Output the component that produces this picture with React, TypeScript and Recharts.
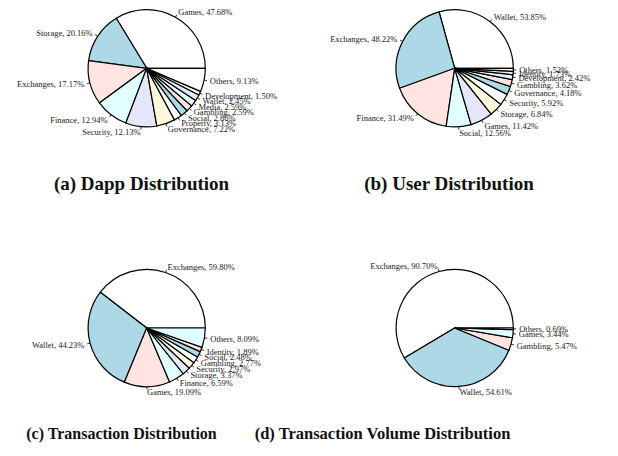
import React from 'react';
import { PieChart, Pie, Cell } from 'recharts';

// R's default pie palette
const PALETTE = ['#FFFFFF', '#ADD8E6', '#FFE4E1', '#E0FFFF', '#E6E6FA', '#FFF8DC'];

const dappNames = ['Games', 'Storage', 'Exchanges', 'Finance', 'Security', 'Governance', 'Property', 'Social', 'Gambling', 'Media', 'Wallet', 'Development', 'Others'];
const dappValues = [47.68, 20.16, 17.17, 12.94, 12.13, 7.22, 3.13, 2.86, 2.59, 2.59, 2.45, 1.5, 9.13];

const userNames = ['Wallet', 'Exchanges', 'Finance', 'Social', 'Games', 'Storage', 'Security', 'Governance', 'Gambling', 'Development', 'Identity', 'Others'];
const userValues = [53.85, 48.22, 31.49, 12.56, 11.42, 6.84, 5.92, 4.18, 3.62, 2.42, 1.73, 1.52];

const txNames = ['Exchanges', 'Wallet', 'Games', 'Finance', 'Storage', 'Security', 'Gambling', 'Social', 'Identity', 'Others'];
const txValues = [59.8, 44.23, 19.09, 6.59, 3.37, 2.97, 2.77, 2.48, 1.89, 8.09];

const volNames = ['Exchanges', 'Wallet', 'Gambling', 'Games', 'Others'];
const volValues = [90.7, 54.61, 5.47, 3.44, 0.69];

const toRows = (names: string[], values: number[]) => names.map((name, i) => ({ name, value: values[i] }));

const panels = [
  { key: 'a', data: toRows(dappNames, dappValues), cx: 141.7, cy: 63.3 },
  { key: 'b', data: toRows(userNames, userValues), cx: 449.7, cy: 63.3 },
  { key: 'c', data: toRows(txNames, txValues), cx: 141.7, cy: 323 },
  { key: 'd', data: toRows(volNames, volValues), cx: 449.7, cy: 323 },
];

const RADIUS = 58.6;

// R style label: tick from r to 1.05r, text at 1.1r
const renderLabel = (props: any) => {
  const { cx, cy, midAngle, outerRadius, name, value } = props;
  const a = (-midAngle * Math.PI) / 180;
  const c = Math.cos(a);
  const s = Math.sin(a);
  return (
    <g>
      <line x1={cx + outerRadius * c} y1={cy + outerRadius * s} x2={cx + outerRadius * 1.05 * c} y2={cy + outerRadius * 1.05 * s} stroke="#000" strokeWidth={0.8} />
      <text
        x={cx + outerRadius * 1.1 * c}
        y={cy + outerRadius * 1.1 * s}
        textAnchor={c >= 0 ? 'start' : 'end'}
        dominantBaseline="central"
        fontSize={8.5}
        fontFamily="'Liberation Serif', serif"
        fill="#1a1a1a"
      >
        {`${name}, ${value.toFixed(2)}%`}
      </text>
    </g>
  );
};

const captionStyle = (x: number, y: number, size: number): React.CSSProperties => ({
  position: 'absolute',
  left: x,
  top: y,
  transform: 'translate(-50%, -50%)',
  whiteSpace: 'nowrap',
  fontFamily: "'Liberation Serif', serif",
  fontWeight: 'bold',
  fontSize: size,
  color: '#111',
});

export default function App() {
  return (
    <div style={{ position: 'absolute', left: 0, top: 0, width: 618, height: 456, background: '#fff' }}>
      <PieChart width={618} height={456}>
        {panels.map((p) => (
          <Pie
            key={p.key}
            data={p.data}
            dataKey="value"
            nameKey="name"
            cx={p.cx}
            cy={p.cy}
            outerRadius={RADIUS}
            startAngle={0}
            endAngle={360}
            stroke="#000"
            strokeWidth={1.2}
            label={renderLabel}
            labelLine={false}
            isAnimationActive={false}
          >
            {p.data.map((d, i) => (
              <Cell key={d.name} fill={PALETTE[i % PALETTE.length]} />
            ))}
          </Pie>
        ))}
      </PieChart>
      <div style={captionStyle(141.5, 184, 19)}>(a) Dapp Distribution</div>
      <div style={captionStyle(449, 184, 19)}>(b) User Distribution</div>
      <div style={captionStyle(121.5, 434, 16)}>(c) Transaction Distribution</div>
      <div style={captionStyle(382.5, 434, 16.5)}>(d) Transaction Volume Distribution</div>
    </div>
  );
}
